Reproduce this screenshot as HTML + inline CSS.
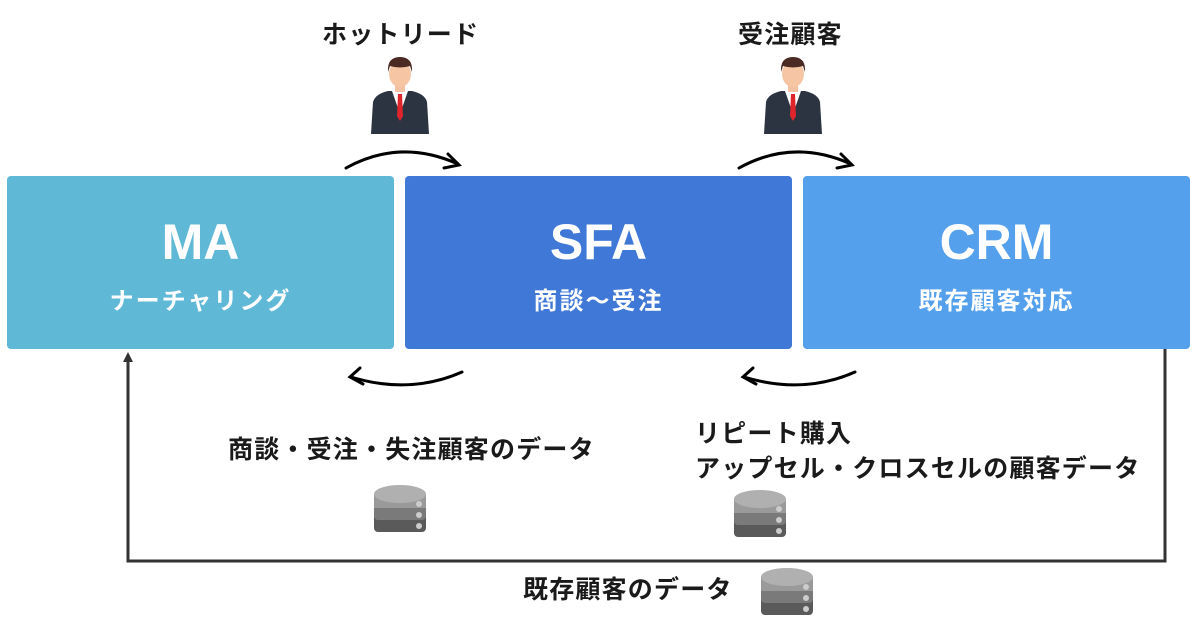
<!DOCTYPE html>
<html><head><meta charset="utf-8"><style>
body{margin:0;width:1200px;height:630px;background:#fff;position:relative;overflow:hidden;font-family:"Liberation Sans","Noto Sans CJK JP",sans-serif;}
.box{position:absolute;top:176px;height:173px;border-radius:4px;color:#fff;text-align:center;}
.t{font-size:50px;font-weight:bold;margin-top:36px;line-height:60px;}
.s{font-size:24px;font-weight:bold;margin-top:9px;letter-spacing:2px;}
.l{position:absolute;font-size:25px;font-weight:bold;color:#1a1a1a;white-space:nowrap;letter-spacing:1.2px;}
</style></head><body>
<div class="box" style="left:7px;width:387px;background:#5fb8d6"><div class="t">MA</div><div class="s">ナーチャリング</div></div>
<div class="box" style="left:405px;width:387px;background:#3f78d6"><div class="t">SFA</div><div class="s">商談〜受注</div></div>
<div class="box" style="left:803px;width:387px;background:#55a0ec"><div class="t">CRM</div><div class="s">既存顧客対応</div></div>
<div class="l" style="left:322px;top:15px">ホットリード</div>
<div class="l" style="left:738px;top:15px">受注顧客</div>
<div class="l" style="left:228px;top:430px">商談・受注・失注顧客のデータ</div>
<div class="l" style="left:695px;top:414px">リピート購入</div>
<div class="l" style="left:695px;top:449px">アップセル・クロスセルの顧客データ</div>
<div class="l" style="left:523px;top:570px">既存顧客のデータ</div>
<svg width="1200" height="630" style="position:absolute;left:0;top:0">
<defs>
<g id="p">
<path d="M-29,40 L-27,8 Q-25,0 -12,-3 L12,-3 Q25,0 27,8 L29,40Z" fill="#2b3440"/>
<path d="M-8,-3 L0,20 L8,-3Z" fill="#fff"/>
<path d="M-2,0 L2,0 L3,22 L0,27 L-3,22Z" fill="#e0242c"/>
<rect x="-5" y="-10" width="10" height="8" fill="#f4c1a0"/>
<ellipse cx="0" cy="-20" rx="11" ry="13" fill="#f6c6a4"/>
<path d="M-12,-22 Q-13,-37 0,-37 Q13,-37 12,-22 L10,-28 Q0,-25 -10,-28Z" fill="#4a2a22"/>
</g>
<g id="d">
<rect x="-26" y="-14" width="52" height="38" rx="4" fill="#5a5a5a"/>
<rect x="-26" y="-14" width="52" height="26" rx="4" fill="#7a7a7a"/>
<rect x="-26" y="-14" width="52" height="14" fill="#9a9a9a"/>
<ellipse cx="0" cy="-14" rx="26" ry="9" fill="#b0b0b0"/>
<circle cx="19" cy="-4" r="3" fill="#ccc"/><circle cx="19" cy="7" r="3" fill="#ccc"/><circle cx="19" cy="18" r="3" fill="#ccc"/>
</g>
</defs>
<use href="#p" x="400" y="94"/>
<use href="#p" x="793" y="94"/>
<g fill="none" stroke="#000" stroke-width="3" stroke-linecap="round">
<path d="M346,168 Q400,138 458,164"/><path d="M448,154 L459,165 L444,168"/>
<path d="M739,168 Q793,138 851,164"/><path d="M841,154 L852,165 L837,168"/>
<path d="M462,372 Q410,395 351,377"/><path d="M360,368 L350,377 L363,384"/>
<path d="M855,372 Q803,395 744,377"/><path d="M753,368 L743,377 L756,384"/>
</g>
<path d="M1165,349 L1165,561 L128,561 L128,356" fill="none" stroke="#333" stroke-width="3"/>
<path d="M123,362 L128,352 L133,362Z" fill="#333"/>
<use href="#d" x="400" y="508"/>
<use href="#d" x="760" y="513"/>
<use href="#d" x="787" y="591"/>
</svg>
</body></html>
